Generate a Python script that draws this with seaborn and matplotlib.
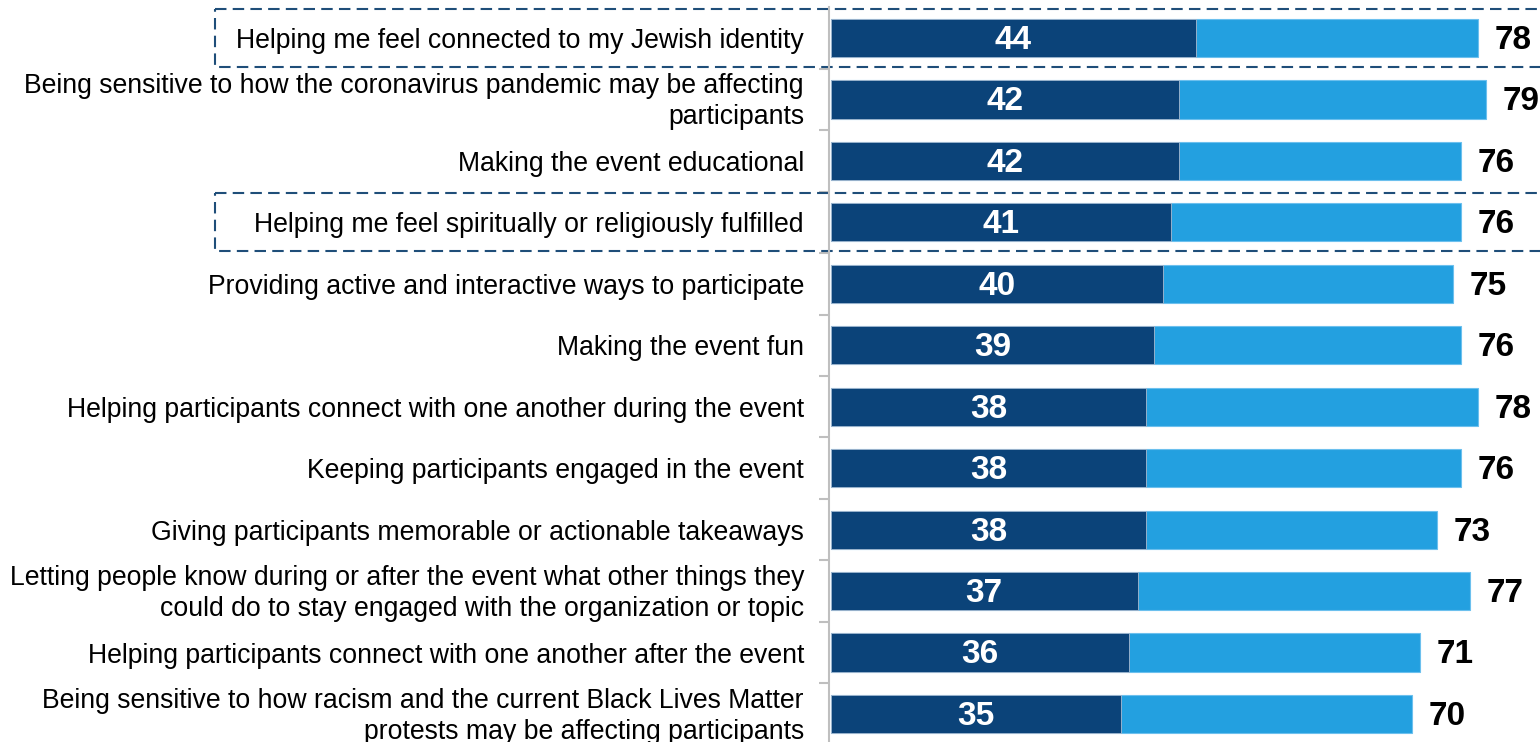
import matplotlib
matplotlib.use("Agg")
import matplotlib.pyplot as plt
import matplotlib.transforms as mtransforms
from matplotlib.patches import Rectangle
import seaborn as sns
import pandas as pd

labels = [
    "Helping me feel connected to my Jewish identity",
    "Being sensitive to how the coronavirus pandemic may be affecting\nparticipants",
    "Making the event educational",
    "Helping me feel spiritually or religiously fulfilled",
    "Providing active and interactive ways to participate",
    "Making the event fun",
    "Helping participants connect with one another during the event",
    "Keeping participants engaged in the event",
    "Giving participants memorable or actionable takeaways",
    "Letting people know during or after the event what other things they\ncould do to stay engaged with the organization or topic",
    "Helping participants connect with one another after the event",
    "Being sensitive to how racism and the current Black Lives Matter\nprotests may be affecting participants",
]
top_values = [44, 42, 42, 41, 40, 39, 38, 38, 38, 37, 36, 35]
total_values = [78, 79, 76, 76, 75, 76, 78, 76, 73, 77, 71, 70]
highlighted = [0, 3]

DARK = "#0B4379"
LIGHT = "#23A0E0"
BOX = "#1F4E79"

df = pd.DataFrame({"label": labels, "top": top_values, "total": total_values})

sns.set_style("white")
plt.rcParams["font.family"] = ["Liberation Sans", "DejaVu Sans"]

fig = plt.figure(figsize=(15.4, 7.42), dpi=100)
ax = fig.add_axes([829 / 1540, 0, 711 / 1540, 735 / 742])

sns.barplot(data=df, x="total", y="label", color=LIGHT, width=0.62,
            saturation=1, edgecolor="#6CC0EE", linewidth=0.8, ax=ax)
sns.barplot(data=df, x="top", y="label", color=DARK, width=0.62,
            saturation=1, edgecolor="#A9BBD0", linewidth=0.6, ax=ax)

ax.set_xlim(-0.2, 711 / 8.3 - 0.2)
ax.set_ylim(11.456, -0.5045)
ax.set_xlabel("")
ax.set_ylabel("")
ax.set_xticks([])

for s in ["top", "right", "bottom"]:
    ax.spines[s].set_visible(False)
ax.spines["left"].set_color("#BFBFBF")
ax.spines["left"].set_linewidth(1.5)

ax.set_yticks(range(len(labels)))
ax.set_yticklabels(labels, fontsize=19.2, color="#000000", linespacing=1.23)
ax.tick_params(axis="y", which="major", length=0, pad=18)
ax.set_yticks([i + 0.5 for i in range(len(labels) - 1)], minor=True)
ax.tick_params(axis="y", which="minor", left=True, length=7, width=1.5,
               color="#BFBFBF")

# two-line labels sit a little high in the original
shift_up = mtransforms.ScaledTranslation(0, 3 / 100, fig.dpi_scale_trans)
for lab in ax.get_yticklabels():
    if "\n" in lab.get_text():
        lab.set_transform(lab.get_transform() + shift_up)

for i, (t, tot) in enumerate(zip(top_values, total_values)):
    ax.text(t / 2, i + 0.04, str(t), ha="center", va="center", color="white",
            fontsize=24, fontweight="bold")
    ax.text(tot + 2.0, i + 0.04, str(tot), ha="left", va="center", color="black",
            fontsize=24, fontweight="bold")

trans = mtransforms.blended_transform_factory(ax.transAxes, ax.transData)
for i in highlighted:
    rect = Rectangle((-0.864, i - 0.472), 1.87, 0.944, transform=trans,
                     fill=False, edgecolor=BOX, linestyle=(0, (5.5, 3)),
                     linewidth=1.5, clip_on=False)
    ax.add_patch(rect)

fig.savefig("out.png", dpi=100)
